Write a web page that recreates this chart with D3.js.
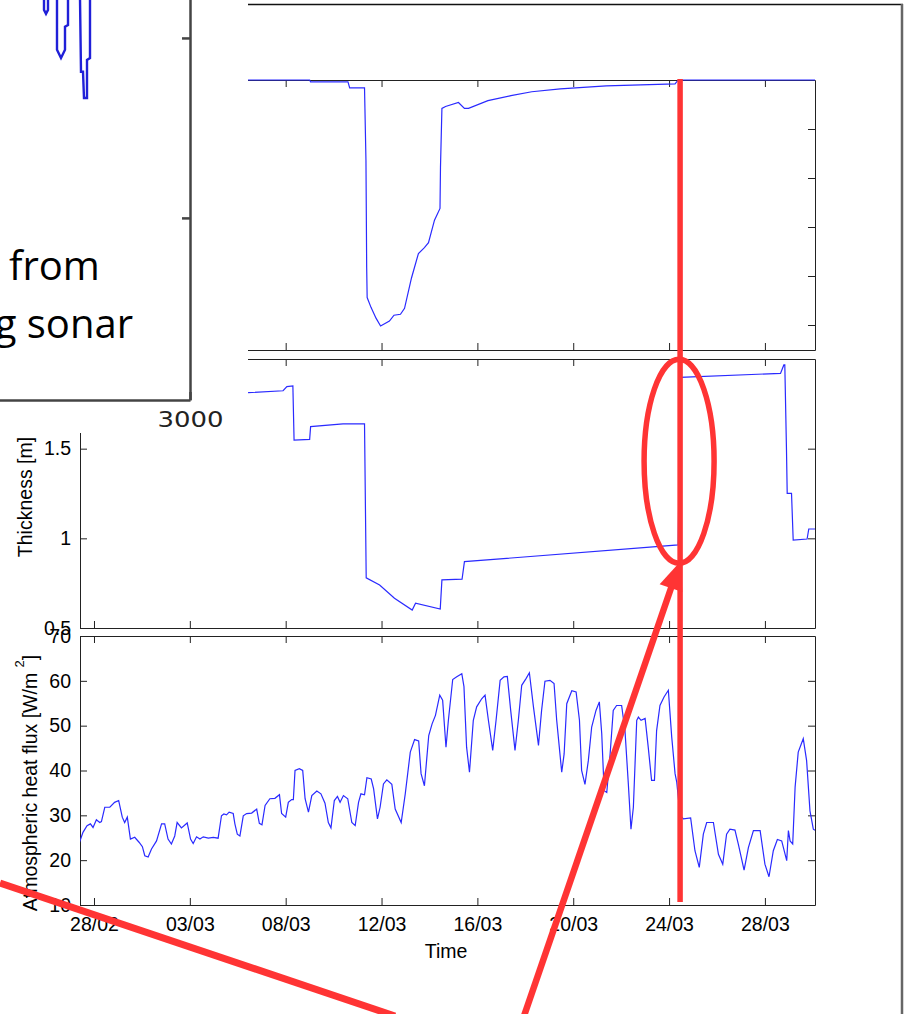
<!DOCTYPE html>
<html lang="en">
<head>
<meta charset="UTF-8">
<title>Ice thickness and atmospheric heat flux</title>
<script src="https://cdnjs.cloudflare.com/ajax/libs/d3/7.8.5/d3.min.js"></script>
<style>
body { margin: 0; background: #fff; }
svg { display: block; }
.tick text { font-family: "Liberation Sans", Arial, sans-serif; font-size: 19.5px; fill: #000; }
.lab { font-family: "Liberation Sans", Arial, sans-serif; font-size: 19.5px; fill: #000; }
</style>
</head>
<body>
<svg id="fig"></svg>
<script>
// time axis: days counted from 28/02
var tickDays = [0, 4, 8, 12, 16, 20, 24, 28]
var tickLabels = ["28/02", "03/03", "08/03", "12/03", "16/03", "20/03", "24/03", "28/03"]

var draftTicks = [0, -0.5, -1, -1.5, -2, -2.5]
var thickTicks = [0.5, 1, 1.5]
var fluxTicks = [10, 20, 30, 40, 50, 60, 70]

// top panel (left axis hidden under the inset)
var draft = [[6.42,0],[9.0,0],[9.04,-0.02],[10.6,-0.02],[10.67,-0.08],[11.29,-0.08],[11.35,-0.82],
  [11.38,-1.91],[11.4,-2.22],[11.56,-2.32],[11.77,-2.43],[11.96,-2.51],[12.33,-2.46],[12.52,-2.40],
  [12.79,-2.39],[12.96,-2.33],[13.25,-2.02],[13.54,-1.77],[13.79,-1.71],[13.96,-1.66],[14.21,-1.43],
  [14.44,-1.31],[14.46,-0.89],[14.52,-0.29],[14.67,-0.27],[15.21,-0.23],[15.46,-0.29],[15.63,-0.29],
  [16.44,-0.21],[17.4,-0.16],[18.27,-0.12],[19.46,-0.09],[21.38,-0.06],[24.25,-0.04],[24.38,0],[30.09,0]]

// ice thickness [m]
var thickness = [[6.43,1.812],[7.89,1.823],[8.05,1.846],[8.30,1.85],[8.35,1.548],[9.0,1.552],[9.04,1.623],
  [10.39,1.638],[11.29,1.638],[11.36,0.78],[11.92,0.74],[12.54,0.666],[13.28,0.60],[13.42,0.638],
  [14.45,0.606],[14.52,0.768],[15.36,0.772],[15.46,0.87],[24.38,0.963],[24.46,1.898],[28.65,1.92],
  [28.79,1.967],[28.83,1.967],[28.9,1.493],[28.93,1.251],[29.11,1.251],[29.18,0.99],[29.76,0.996],
  [29.83,1.052],[30.09,1.052]]

// atmospheric heat flux [W/m2]
var flux = [[-0.63,23.6],[-0.46,26.2],[-0.29,27.7],[-0.15,28.1],[-0.04,27.3],[0.10,29.0],[0.24,28.4],
  [0.31,28.6],[0.45,31.8],[0.66,31.8],[0.86,32.9],[1.03,33.3],[1.18,29.6],[1.28,28.4],[1.39,29.6],
  [1.52,24.7],[1.70,25.1],[1.88,24.0],[2.02,23.0],[2.12,21.0],[2.26,20.7],[2.40,22.5],[2.61,24.3],
  [2.82,28.1],[2.95,28.1],[3.09,24.7],[3.23,23.6],[3.37,25.4],[3.47,28.4],[3.65,27.2],[3.89,28.3],
  [4.03,24.7],[4.14,23.7],[4.28,25.2],[4.42,24.7],[4.56,25.2],[4.77,24.9],[4.98,25.1],[5.18,24.9],
  [5.32,29.9],[5.42,30.3],[5.53,30.1],[5.64,30.7],[5.81,30.4],[5.88,28.1],[5.98,25.8],[6.09,25.4],
  [6.23,29.9],[6.37,30.4],[6.58,30.5],[6.79,31.4],[6.90,28.2],[7.01,27.9],[7.14,32.2],[7.34,33.7],
  [7.55,33.8],[7.74,34.6],[7.83,30.4],[8.0,29.6],[8.11,32.9],[8.25,33.5],[8.32,33.5],[8.39,40.0],
  [8.57,40.4],[8.71,40.0],[8.81,33.7],[8.95,30.7],[9.09,34.4],[9.30,35.4],[9.47,34.8],[9.64,32.7],
  [9.78,28.4],[9.89,27.2],[10.03,33.3],[10.16,34.2],[10.27,32.9],[10.41,34.4],[10.59,33.7],[10.76,28.4],
  [10.90,27.7],[11.04,32.9],[11.14,34.8],[11.29,34.6],[11.39,38.4],[11.57,38.1],[11.67,35.9],[11.83,29.2],
  [11.94,31.8],[12.08,37.0],[12.22,37.9],[12.43,36.9],[12.57,31.4],[12.82,28.4],[12.99,34.8],[13.20,44.1],
  [13.38,46.9],[13.55,46.6],[13.65,39.3],[13.79,36.6],[13.97,47.8],[14.11,50.4],[14.25,52.3],[14.43,56.8],
  [14.55,55.7],[14.69,45.2],[14.79,51.2],[14.97,60.3],[15.14,60.9],[15.35,61.6],[15.44,58.7],[15.55,45.2],
  [15.67,39.6],[15.83,51.2],[15.97,54.2],[16.18,56.0],[16.32,56.8],[16.46,51.2],[16.64,44.5],[16.78,51.2],
  [16.95,60.1],[17.11,60.9],[17.25,61.0],[17.39,53.4],[17.57,44.5],[17.71,51.2],[17.85,59.0],[18.03,60.5],
  [18.17,61.8],[18.34,54.2],[18.55,45.6],[18.68,53.4],[18.82,59.9],[19.03,60.1],[19.20,59.4],[19.31,51.2],
  [19.52,39.6],[19.62,43.7],[19.73,54.9],[19.94,57.8],[20.12,57.5],[20.26,51.2],[20.35,40.0],[20.49,36.9],
  [20.63,42.2],[20.77,49.7],[20.95,53.4],[21.09,55.3],[21.19,48.2],[21.29,35.5],[21.40,35.1],[21.54,43.7],
  [21.67,53.4],[21.81,54.5],[22.02,54.5],[22.16,48.9],[22.30,37.0],[22.41,26.9],[22.51,31.8],[22.65,51.2],
  [22.72,51.9],[22.83,51.2],[23.0,51.6],[23.13,45.2],[23.27,37.8],[23.39,37.8],[23.48,48.9],[23.62,54.5],
  [23.79,56.4],[23.97,57.9],[24.11,47.5],[24.25,39.3],[24.32,37.4],[24.46,30.0],[24.60,29.2],[24.90,29.4],
  [25.08,22.1],[25.26,18.4],[25.43,25.8],[25.57,28.4],[25.85,28.4],[26.06,21.3],[26.24,19.1],[26.40,25.8],
  [26.54,26.9],[26.75,26.7],[26.89,23.6],[27.13,17.8],[27.31,22.8],[27.52,26.6],[27.80,26.6],[28.0,19.1],
  [28.17,16.3],[28.35,22.1],[28.52,24.6],[28.70,24.3],[28.91,19.9],[28.98,26.6],[29.05,24.3],[29.16,23.6],
  [29.26,36.3],[29.39,44.1],[29.60,47.1],[29.74,42.2],[29.88,31.0],[30.02,26.9],[30.09,26.7]]

// inset (sonar profile, mostly cropped away)
var insetTicksY = [-5, -10]
var insetTicksX = [3000]
var sonarTraces = [
  [[2270,-3.9],[2270,-4.22],[2280,-4.33],[2290,-4.22],[2290,-3.9]],
  [[2335,-3.9],[2335,-5.33],[2355,-5.56],[2375,-5.33],[2375,-4.69],[2390,-4.64],[2390,-3.9]],
  [[2450,-3.9],[2455,-5.94],[2465,-5.94],[2470,-6.67],[2485,-6.67],[2485,-5.61],[2500,-5.56],[2500,-3.9]]
]

var markerDay = 24.46

var W = 912, H = 1014
var svg = d3.select("#fig").attr("width", W).attr("height", H)

var x = d3.scaleLinear().domain([-0.584, 30.09]).range([80, 815])
var yDraft = d3.scaleLinear().domain([-2.755, 0]).range([350, 80])
var yThick = d3.scaleLinear().domain([0.5, 2.0]).range([628, 359])
var yFlux = d3.scaleLinear().domain([10, 70]).range([905, 636])

var blue = "#2a2aff", red = "#ff3434"

// outer frame of the main figure
svg.append("line").attr("x1", 248).attr("y1", 4.5).attr("x2", 903).attr("y2", 4.5)
  .attr("stroke", "#111").attr("stroke-width", 1.3)
svg.append("line").attr("x1", 902).attr("y1", 4).attr("x2", 902).attr("y2", H)
  .attr("stroke", "#666").attr("stroke-width", 2.5)

function panel(name, y, data, yTicks, leftLabels, bottomLabels) {
  var top = y.range()[1], bottom = y.range()[0]
  var g = svg.append("g")
  g.append("clipPath").attr("id", "clip-" + name)
    .append("rect").attr("x", 80).attr("y", top - 1).attr("width", 735).attr("height", bottom - top + 2)

  var ax = g.append("g").attr("transform", "translate(0," + bottom + ")")
    .call(d3.axisBottom(x).tickValues(tickDays).tickSizeInner(-7).tickSizeOuter(0).tickPadding(12)
      .tickFormat(function(d, i) { return tickLabels[i] }))
  if (!bottomLabels) ax.selectAll("text").remove()

  g.append("g").attr("transform", "translate(0," + top + ")")
    .call(d3.axisTop(x).tickValues(tickDays).tickSizeInner(-7).tickSizeOuter(0))
    .selectAll("text").remove()

  var ay = g.append("g").attr("transform", "translate(80,0)")
    .call(d3.axisLeft(y).tickValues(yTicks).tickSizeInner(-7).tickSizeOuter(0).tickPadding(9)
      .tickFormat(d3.format("")))
  if (!leftLabels) ay.selectAll("text").remove()

  g.append("g").attr("transform", "translate(815,0)")
    .call(d3.axisRight(y).tickValues(yTicks).tickSizeInner(-7).tickSizeOuter(0))
    .selectAll("text").remove()

  g.selectAll(".domain, .tick line").attr("stroke", "#222")

  // data drawn over the box, as MATLAB does
  g.append("path").datum(data)
    .attr("clip-path", "url(#clip-" + name + ")")
    .attr("fill", "none")
    .attr("stroke", blue)
    .attr("stroke-width", 1.2)
    .attr("d", d3.line().x(function(d) { return x(d[0]) }).y(function(d) { return y(d[1]) }))
}

panel("draft", yDraft, draft, draftTicks, false, false)
panel("thick", yThick, thickness, thickTicks, true, false)
panel("flux", yFlux, flux, fluxTicks, true, true)

svg.append("text").attr("class", "lab")
  .attr("transform", "translate(32,497) rotate(-90)")
  .attr("text-anchor", "middle")
  .text("Thickness [m]")

var fl = svg.append("text").attr("class", "lab")
  .attr("transform", "translate(37,783) rotate(-90)")
  .attr("text-anchor", "middle")
fl.append("tspan").text("Atmospheric heat flux [W/m ")
fl.append("tspan").attr("dy", -13).style("font-size", "13px").text("2")
fl.append("tspan").attr("dy", 13).text("]")

svg.append("text").attr("class", "lab")
  .attr("x", 446).attr("y", 958)
  .attr("text-anchor", "middle")
  .text("Time")

// inset figure pasted on top (covers the upper-left corner)
var insetX = d3.scaleLinear().domain([0, 3000]).range([-410, 190])
var insetY = d3.scaleLinear().domain([0, -15.06]).range([-142, 400])
var inset = svg.append("g")
inset.append("rect").attr("x", 0).attr("y", 0).attr("width", 248).attr("height", 433).attr("fill", "#fff")

inset.selectAll("path.trace")
  .data(sonarTraces).enter()
  .append("path")
  .attr("class", "trace")
  .attr("fill", "none")
  .attr("stroke", "#2020d8")
  .attr("stroke-width", 2.4)
  .attr("d", d3.line().x(function(d) { return insetX(d[0]) }).y(function(d) { return insetY(d[1]) }))

var iy = inset.append("g").attr("transform", "translate(190,0)")
  .call(d3.axisRight(insetY).tickValues(insetTicksY).tickSizeInner(-8).tickSizeOuter(0))
iy.selectAll("text").remove()
var ix = inset.append("g").attr("transform", "translate(0,400)")
  .call(d3.axisBottom(insetX).tickValues(insetTicksX).tickSizeInner(-8).tickSizeOuter(0).tickPadding(12)
    .tickFormat(d3.format("")))
ix.selectAll("text")
  .style("font-family", "'DejaVu Sans', sans-serif")
  .style("font-size", "21px")
  .style("fill", "#222")
  .attr("textLength", 66)
  .attr("lengthAdjust", "spacingAndGlyphs")
inset.selectAll(".domain, .tick line").attr("stroke", "#444").attr("stroke-width", 2.5)

inset.append("text").attr("x", 9).attr("y", 280)
  .style("font-family", "'Open Sans', sans-serif").style("font-size", "40px")
  .text("from")
inset.append("text").attr("x", 133).attr("y", 338)
  .attr("text-anchor", "end")
  .style("font-family", "'Open Sans', sans-serif").style("font-size", "40px")
  .text("g sonar")

// red annotations
var ann = svg.append("g").attr("stroke", red).attr("fill", "none").attr("stroke-linecap", "butt")
var mx = x(markerDay)
ann.append("line").attr("x1", mx).attr("y1", 79).attr("x2", mx).attr("y2", 902).attr("stroke-width", 5.5)
ann.append("ellipse").attr("cx", mx - 1).attr("cy", yThick(1.43)).attr("rx", 35).attr("ry", 102)
  .attr("stroke-width", 5.5)

ann.append("line").attr("x1", 0).attr("y1", 883).attr("x2", 395).attr("y2", 1016).attr("stroke-width", 7)

var tip = [mx, yThick(0.87)], tail = [524, 1016]
var dx = tip[0] - tail[0], dy = tip[1] - tail[1], len = Math.sqrt(dx * dx + dy * dy)
var ux = dx / len, uy = dy / len, headL = 28, headW = 12
var base = [tip[0] - headL * ux, tip[1] - headL * uy]
ann.append("line").attr("x1", tail[0]).attr("y1", tail[1]).attr("x2", base[0] + 2 * ux).attr("y2", base[1] + 2 * uy)
  .attr("stroke-width", 6.5)
ann.append("path")
  .attr("d", "M" + tip + "L" + [base[0] - headW * uy, base[1] + headW * ux] + "L" + [base[0] + headW * uy, base[1] - headW * ux] + "Z")
  .attr("fill", red).attr("stroke", "none")
</script>
</body>
</html>
